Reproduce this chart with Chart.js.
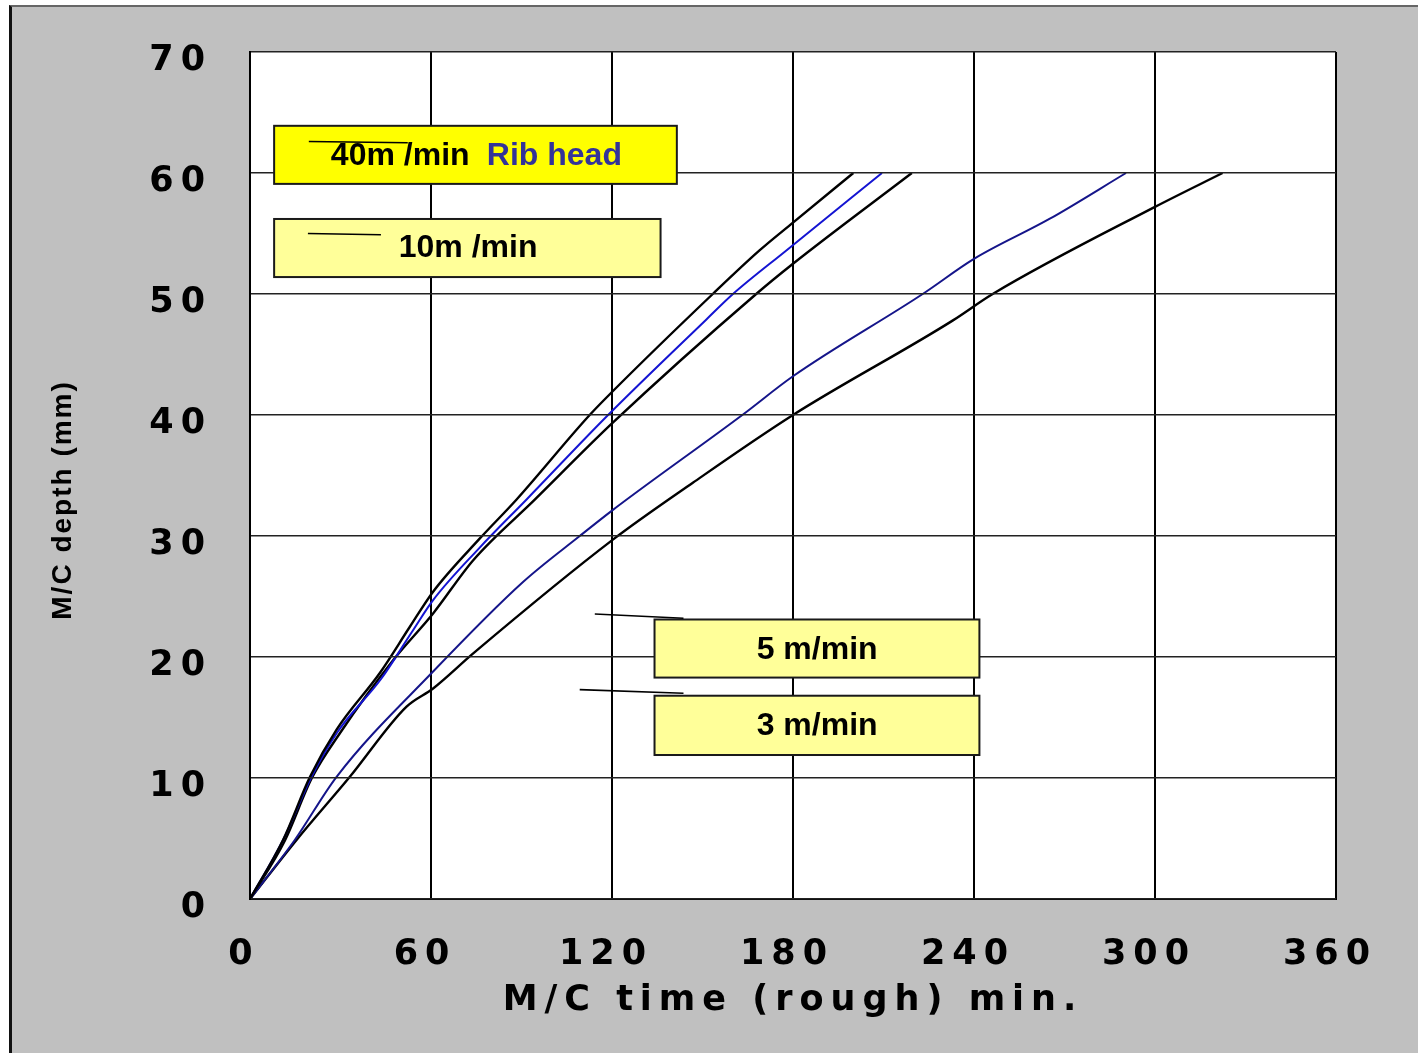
<!DOCTYPE html>
<html>
<head>
<meta charset="utf-8">
<title>M/C depth vs M/C time</title>
<script src="https://cdn.jsdelivr.net/npm/chart.js@4.4.0/dist/chart.umd.min.js"></script>
<style>
  html, body { margin: 0; padding: 0; background: #fff; width: 1418px; height: 1053px; overflow: hidden; }
  #frame { position: absolute; left: 9px; top: 5px; right: 0; bottom: 0; background: #c0c0c0; border-top: 2px solid #666; border-left: 3px solid #111; }
  #myChart { position: absolute; left: 0; top: 0; }
</style>
</head>
<body>
<div id="frame"></div>
<canvas id="myChart" width="1418" height="1053"></canvas>
<script>
// tick labels
const timeTicks = [0, 60, 120, 180, 240, 300, 360];
const depthTicks = [0, 10, 20, 30, 40, 50, 60, 70];

// 40 m/min (black, top)
const time40 = [0, 11, 19.9, 28.7, 43.1, 53, 60.7, 76.2, 88.3, 112.6, 120, 153.4, 168.9, 180, 200];
const depth40 = [0, 4.9, 10.1, 14.0, 18.7, 22.5, 25.4, 29.8, 33.0, 40.0, 41.9, 50.0, 53.6, 55.9, 60];

// Rib head (blue)
const timeRib = [0, 11, 20.2, 29, 43.5, 53.5, 60.7, 76, 91.6, 118.7, 151.3, 160.1, 177.8, 209.5];
const depthRib = [0, 4.9, 10, 13.8, 18.2, 22, 24.7, 29, 33, 40, 47.9, 50, 53.6, 60];

// 10 m/min (black)
const time10 = [0, 11.5, 20.5, 29.8, 47.5, 60.7, 74, 94.4, 120, 167.8, 180, 219.4];
const depth10 = [0, 4.8, 10, 13.7, 19.75, 23.6, 28, 33, 39.3, 50, 52.5, 60];

// 5 m/min (navy)
const time5 = [0, 14.9, 28.7, 60.7, 90.5, 109.3, 120, 163.2, 180, 223, 240, 265, 290.4];
const depth5 = [0, 4.9, 10.1, 18.8, 26.2, 30, 32.1, 40, 43.2, 50, 52.9, 56.2, 60];

// 3 m/min (black, bottom)
const time3 = [0, 15.5, 33.1, 51.9, 60.7, 74, 120.3, 146.8, 180, 232.9, 246.2, 300, 322.4];
const depth3 = [0, 4.9, 10.1, 15.9, 17.4, 20.3, 29.7, 34.4, 40, 47.8, 50, 57.2, 60];

function toPoints(xs, ys) {
  return xs.map((x, i) => ({ x: x, y: ys[i] }));
}

function makeLine(label, xs, ys, color, width) {
  return {
    label: label,
    data: toPoints(xs, ys),
    borderColor: color,
    borderWidth: width,
    pointRadius: 0,
    cubicInterpolationMode: "monotone",
    fill: false,
  };
}

// white plot area + letter spacing for the wide axis text
const framePlugin = {
  id: "frame",
  beforeUpdate(chart) {
    chart.ctx.letterSpacing = "7px";
  },
  beforeDraw(chart) {
    const { ctx, chartArea } = chart;
    ctx.letterSpacing = "7px";
    ctx.save();
    ctx.fillStyle = "#fff";
    ctx.fillRect(chartArea.left, chartArea.top, chartArea.right - chartArea.left, chartArea.bottom - chartArea.top);
    ctx.restore();
  },
  afterDatasetsDraw(chart) {
    // y grid + title are drawn after this (z = 1), with tighter spacing
    chart.ctx.letterSpacing = "2px";
  },
};

// the yellow label boxes with their pointer lines
const notePlugin = {
  id: "notes",
  afterDraw(chart, args, opts) {
    const { ctx } = chart;
    const x = chart.scales.x;
    const y = chart.scales.y;
    ctx.save();
    ctx.letterSpacing = "0px";
    opts.boxes.forEach((b) => {
      const left = x.getPixelForValue(b.xMin);
      const right = x.getPixelForValue(b.xMax);
      const top = y.getPixelForValue(b.yMax);
      const bottom = y.getPixelForValue(b.yMin);
      ctx.fillStyle = b.fill;
      ctx.fillRect(left, top, right - left, bottom - top);
      ctx.lineWidth = 2;
      ctx.strokeStyle = "#1a1a1a";
      ctx.strokeRect(left, top, right - left, bottom - top);
      ctx.font = "bold 32px 'Liberation Sans', Arial, sans-serif";
      ctx.textBaseline = "middle";
      b.texts.forEach((t) => {
        ctx.fillStyle = t.color;
        ctx.textAlign = t.align;
        ctx.fillText(t.text, x.getPixelForValue(t.x), y.getPixelForValue(t.y));
      });
    });
    ctx.strokeStyle = "#000";
    ctx.lineWidth = 1.6;
    opts.pointers.forEach((p) => {
      ctx.beginPath();
      ctx.moveTo(x.getPixelForValue(p[0]), y.getPixelForValue(p[1]));
      ctx.lineTo(x.getPixelForValue(p[2]), y.getPixelForValue(p[3]));
      ctx.stroke();
    });
    ctx.restore();
  },
};

const ctx = document.getElementById("myChart").getContext("2d");

const chartInstance = new Chart(ctx, {
  type: "line",
  data: {
    datasets: [
      makeLine("40m /min", time40, depth40, "#000000", 2.4),
      makeLine("Rib head", timeRib, depthRib, "#1414d2", 2),
      makeLine("10m /min", time10, depth10, "#000000", 2.4),
      makeLine("5 m/min", time5, depth5, "#15158a", 2),
      makeLine("3 m/min", time3, depth3, "#000000", 2.4),
    ],
  },
  options: {
    responsive: false,
    animation: false,
    events: [],
    layout: { padding: { top: 52, right: 81, bottom: 0, left: 0 } },
    plugins: {
      legend: { display: false },
      tooltip: { enabled: false },
      notes: {
        boxes: [
          {
            xMin: 8, xMax: 141.5, yMin: 59.1, yMax: 63.9, fill: "#ffff00",
            texts: [
              { text: "40m /min", x: 26.8, y: 61.4, color: "#000", align: "left" },
              { text: "Rib head", x: 78.5, y: 61.4, color: "#333399", align: "left" },
            ],
          },
          {
            xMin: 8, xMax: 136.1, yMin: 51.4, yMax: 56.2, fill: "#ffff99",
            texts: [{ text: "10m /min", x: 49.3, y: 53.8, color: "#000", align: "left" }],
          },
          {
            xMin: 134.1, xMax: 241.8, yMin: 18.3, yMax: 23.1, fill: "#ffff99",
            texts: [{ text: "5 m/min", x: 188, y: 20.6, color: "#000", align: "center" }],
          },
          {
            xMin: 134.1, xMax: 241.8, yMin: 11.9, yMax: 16.8, fill: "#ffff99",
            texts: [{ text: "3 m/min", x: 188, y: 14.3, color: "#000", align: "center" }],
          },
        ],
        pointers: [
          [19.5, 62.6, 52.3, 62.5],
          [19.2, 55.0, 43.4, 54.9],
          [114.3, 23.55, 143.7, 23.2],
          [109.3, 17.3, 143.7, 17.0],
        ],
      },
    },
    scales: {
      x: {
        type: "linear",
        min: 0,
        max: 360,
        afterBuildTicks: (scale) => {
          scale.ticks = timeTicks.map((v) => ({ value: v }));
        },
        afterFit: (scale) => {
          scale.height = 154;
        },
        grid: { color: "#000", lineWidth: 2, drawTicks: false },
        border: { color: "#000", width: 2 },
        ticks: {
          color: "#000",
          font: { family: "'DejaVu Sans', sans-serif", size: 35, weight: "bold" },
          padding: 35,
          labelOffset: -6,
          maxRotation: 0,
          autoSkip: false,
        },
        title: {
          display: true,
          text: "M/C time (rough) min.",
          color: "#000",
          font: { family: "'DejaVu Sans', sans-serif", size: 35, weight: "bold" },
          padding: { top: 0, bottom: 31 },
        },
      },
      y: {
        min: 0,
        max: 70,
        afterBuildTicks: (scale) => {
          scale.ticks = depthTicks.map((v) => ({ value: v }));
        },
        afterFit: (scale) => {
          scale.width = 250;
          scale.paddingTop = 0;
          scale.paddingBottom = 0;
        },
        grid: { color: "#222", lineWidth: 1.5, drawTicks: false, z: 1 },
        border: { color: "#000", width: 2, z: 1 },
        ticks: {
          color: "#000",
          font: { family: "'DejaVu Sans', sans-serif", size: 35, weight: "bold" },
          padding: 38,
          labelOffset: 9,
        },
        title: {
          display: true,
          text: "M/C depth (mm)     ",
          color: "#000",
          font: { family: "'Liberation Sans', Arial, sans-serif", size: 28, weight: "bold" },
          padding: { top: 46, bottom: 0 },
        },
      },
    },
  },
  plugins: [framePlugin, notePlugin],
});
</script>
</body>
</html>
